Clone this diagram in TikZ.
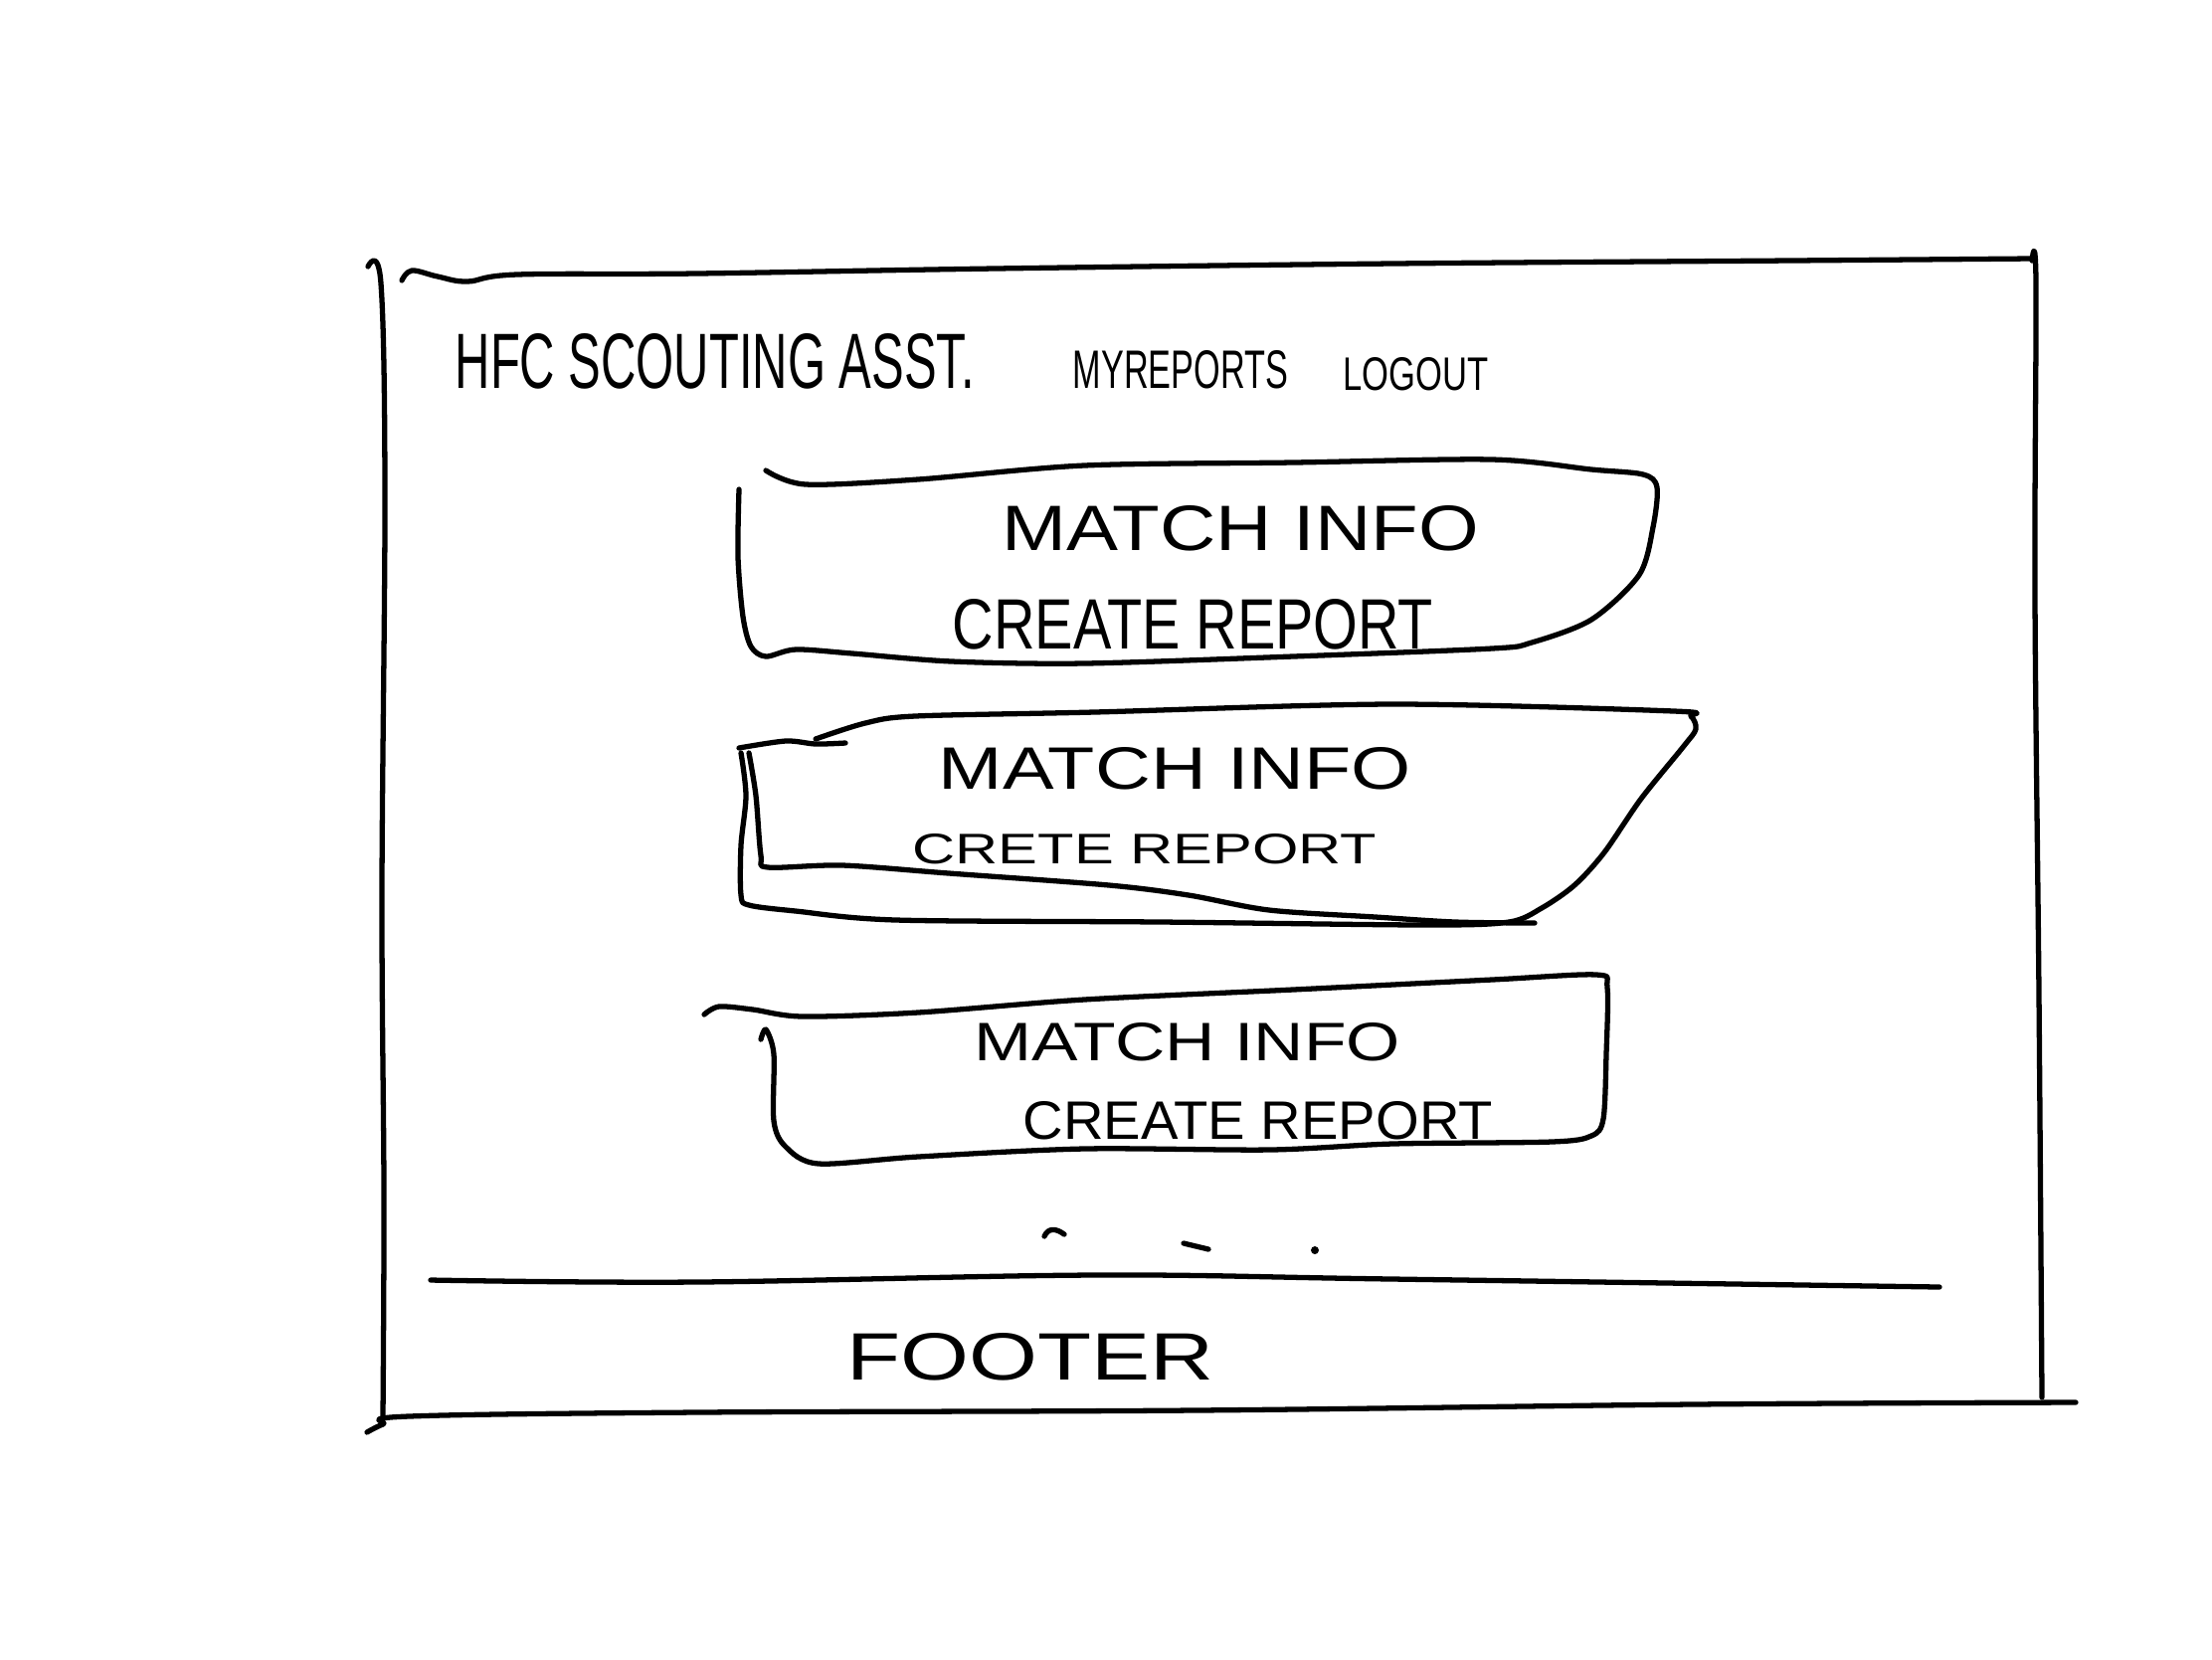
\documentclass[tikz,border=0pt]{standalone}
\usepackage{fontspec}
\setmainfont{Liberation Sans}
\usepackage{graphicx}
\usepackage{tikz}
\usetikzlibrary{positioning}

\newcommand{\handtext}[3]{\resizebox{#1}{#2}{#3}}

\begin{document}
\begin{tikzpicture}[
        x=0.01cm, y=-0.01cm,
        pen/.style={line width=1.5pt, line cap=round, line join=round},
        hand/.style={inner sep=0pt, anchor=base west}
    ]
        \useasboundingbox (0,0) rectangle (2224,1668);

        % page frame
        \draw[pen] plot[smooth, tension=0.6] coordinates {(370,268) (383,285) (387,500) (384,900) (386,1200) (385,1425)};
        \draw[pen] plot[smooth, tension=0.6] coordinates {(404,282) (414,272) (440,278) (470,283) (520,276) (700,275) (1000,270) (1400,265) (1800,262) (2042,260)};
        \draw[pen] plot[smooth, tension=0.6] coordinates {(2043,262) (2047,285) (2046,600) (2050,1000) (2053,1405)};
        \draw[pen] plot[smooth, tension=0.6] coordinates {(369,1440) (385,1432) (411,1424) (700,1420) (1200,1418) (1700,1412) (2087,1410)};

        % header
        \node[hand] (title)   at (457,390)  {\handtext{5.22cm}{0.55cm}{HFC SCOUTING ASST.}};
        \node[hand] (reports) at (1078,390) {\handtext{2.16cm}{0.38cm}{MYREPORTS}};
        \node[hand] (logout)  at (1350,392) {\handtext{1.46cm}{0.33cm}{LOGOUT}};

        % card 1
        \draw[pen] plot[smooth, tension=0.5] coordinates {(770,473) (810,487) (923,482) (1090,468) (1300,465) (1500,462)
            (1600,472) (1652,477) (1666,490) (1662,530) (1648,578) (1600,623) (1540,646) (1500,652)
            (1300,660) (1090,667) (957,665) (857,657) (800,653) (770,660) (755,650) (747,620) (742,560) (743,492)};
        \node[hand] (match1)  at (1007,553) {\handtext{4.79cm}{0.45cm}{MATCH INFO}};
        \node[hand] (create1) at (957,652)  {\handtext{4.83cm}{0.50cm}{CREATE REPORT}};

        % card 2
        \draw[pen] plot[smooth, tension=0.5] coordinates {(743,752) (790,745) (820,748) (850,747)};
        \draw[pen] plot[smooth, tension=0.5] coordinates {(820,743) (870,727) (920,720) (1100,716) (1400,708) (1683,715)
            (1700,720) (1705,733) (1693,750) (1650,803) (1613,857) (1583,890) (1550,913) (1517,927) (1436,930)
            (1168,927) (901,925) (800,916) (753,910) (745,900) (745,850) (750,800) (745,757)};
        \draw[pen] plot[smooth, tension=0.5] coordinates {(753,757) (760,800) (765,860) (772,872) (847,870) (954,878)
            (1115,890) (1195,900) (1276,915) (1383,922) (1463,927) (1543,928)};
        \node[hand] (match2)  at (943,793) {\handtext{4.75cm}{0.42cm}{MATCH INFO}};
        \node[hand] (create2) at (917,868) {\handtext{4.66cm}{0.30cm}{CRETE REPORT}};

        % card 3
        \draw[pen] plot[smooth, tension=0.5] coordinates {(708,1020) (723,1012) (757,1015) (807,1022) (923,1018) (1090,1005)
            (1300,995) (1500,985) (1605,980) (1616,993) (1615,1060) (1612,1125) (1600,1142) (1560,1148)
            (1400,1150) (1277,1156) (1090,1155) (923,1163) (823,1170) (790,1153) (778,1127) (778,1060) (770,1035) (765,1045)};
        \node[hand] (match3)  at (979,1066)  {\handtext{4.28cm}{0.38cm}{MATCH INFO}};
        \node[hand] (create3) at (1028,1145) {\handtext{4.72cm}{0.38cm}{CREATE REPORT}};

        % more cards
        \draw[pen] (1050,1243) .. controls (1054,1234) and (1062,1235) .. (1070,1241);
        \draw[pen] (1190,1250) -- (1215,1256);
        \fill (1322,1257) circle (4);

        % footer
        \draw[pen] plot[smooth, tension=0.6] coordinates {(433,1287) (700,1289) (1100,1282) (1400,1286) (1950,1294)};
        \node[hand] (footer) at (851,1387) {\handtext{3.69cm}{0.47cm}{FOOTER}};
    \end{tikzpicture}
\end{document}
